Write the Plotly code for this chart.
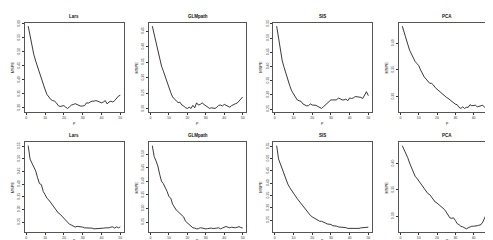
import plotly.graph_objects as go

p = list(range(1, 51))

titles = ["Lars", "GLMpath", "SIS", "PCA", "Lars", "GLMpath", "SIS", "PCA"]

lars_top = [0.592, 0.556, 0.520, 0.490, 0.467, 0.445, 0.425, 0.407, 0.381, 0.365,
            0.348, 0.338, 0.330, 0.326, 0.324, 0.318, 0.308, 0.305, 0.306, 0.308,
            0.302, 0.298, 0.304, 0.310, 0.312, 0.315, 0.312, 0.308, 0.306, 0.307,
            0.308, 0.318, 0.317, 0.321, 0.324, 0.324, 0.326, 0.324, 0.321, 0.318,
            0.321, 0.326, 0.314, 0.321, 0.324, 0.321, 0.326, 0.336, 0.342, 0.345]
glm_top = [0.466, 0.439, 0.407, 0.380, 0.359, 0.337, 0.321, 0.302, 0.284, 0.270,
           0.252, 0.238, 0.230, 0.225, 0.220, 0.221, 0.212, 0.209, 0.203, 0.201,
           0.205, 0.201, 0.211, 0.203, 0.219, 0.212, 0.214, 0.219, 0.214, 0.209,
           0.205, 0.201, 0.203, 0.203, 0.201, 0.205, 0.211, 0.212, 0.209, 0.214,
           0.211, 0.206, 0.205, 0.210, 0.214, 0.216, 0.218, 0.225, 0.230, 0.238]
sis_top = [0.542, 0.495, 0.449, 0.419, 0.396, 0.373, 0.349, 0.332, 0.314, 0.303,
           0.291, 0.282, 0.279, 0.277, 0.268, 0.264, 0.261, 0.262, 0.268, 0.264,
           0.264, 0.263, 0.259, 0.254, 0.252, 0.258, 0.264, 0.268, 0.273, 0.282,
           0.282, 0.283, 0.282, 0.289, 0.285, 0.282, 0.282, 0.285, 0.279, 0.289,
           0.287, 0.289, 0.294, 0.293, 0.291, 0.291, 0.287, 0.299, 0.311, 0.297]
pca_top = [0.432, 0.422, 0.411, 0.398, 0.387, 0.380, 0.372, 0.366, 0.362, 0.358,
           0.350, 0.342, 0.337, 0.333, 0.329, 0.325, 0.325, 0.322, 0.317, 0.314,
           0.311, 0.308, 0.305, 0.301, 0.299, 0.297, 0.294, 0.291, 0.288, 0.286,
           0.285, 0.280, 0.278, 0.281, 0.278, 0.280, 0.280, 0.285, 0.283, 0.283,
           0.284, 0.281, 0.282, 0.282, 0.284, 0.280, 0.283, 0.283, 0.284, 0.288]
lars_bot = [0.552, 0.499, 0.483, 0.469, 0.452, 0.425, 0.402, 0.398, 0.371, 0.358,
            0.344, 0.337, 0.327, 0.313, 0.304, 0.294, 0.286, 0.281, 0.273, 0.263,
            0.257, 0.250, 0.241, 0.238, 0.234, 0.230, 0.233, 0.233, 0.230, 0.230,
            0.227, 0.227, 0.227, 0.227, 0.226, 0.223, 0.223, 0.226, 0.224, 0.224,
            0.226, 0.227, 0.227, 0.227, 0.230, 0.231, 0.226, 0.231, 0.227, 0.231]
glm_bot = [0.531, 0.491, 0.475, 0.456, 0.425, 0.400, 0.391, 0.379, 0.363, 0.344,
           0.338, 0.316, 0.303, 0.294, 0.288, 0.281, 0.275, 0.269, 0.253, 0.246,
           0.240, 0.234, 0.229, 0.228, 0.225, 0.226, 0.229, 0.228, 0.225, 0.225,
           0.226, 0.228, 0.228, 0.226, 0.226, 0.228, 0.229, 0.225, 0.228, 0.230,
           0.234, 0.231, 0.229, 0.231, 0.230, 0.229, 0.231, 0.233, 0.230, 0.228]
sis_bot = [0.553, 0.499, 0.478, 0.458, 0.430, 0.414, 0.396, 0.382, 0.369, 0.355,
           0.348, 0.337, 0.327, 0.314, 0.304, 0.296, 0.286, 0.277, 0.269, 0.263,
           0.259, 0.255, 0.249, 0.245, 0.245, 0.243, 0.238, 0.234, 0.234, 0.232,
           0.227, 0.227, 0.225, 0.222, 0.222, 0.221, 0.221, 0.219, 0.216, 0.216,
           0.215, 0.214, 0.214, 0.215, 0.216, 0.218, 0.219, 0.222, 0.222, 0.221]
pca_bot = [0.434, 0.427, 0.420, 0.411, 0.401, 0.392, 0.383, 0.376, 0.372, 0.367,
           0.362, 0.357, 0.354, 0.348, 0.343, 0.341, 0.336, 0.331, 0.327, 0.325,
           0.322, 0.320, 0.316, 0.313, 0.308, 0.303, 0.297, 0.296, 0.297, 0.292,
           0.286, 0.284, 0.281, 0.280, 0.278, 0.276, 0.278, 0.280, 0.281, 0.281,
           0.281, 0.282, 0.283, 0.284, 0.289, 0.297, 0.303, 0.310, 0.319, 0.335]

series = [lars_top, glm_top, sis_top, pca_top, lars_bot, glm_bot, sis_bot, pca_bot]

x_ticks = [0, 10, 20, 30, 40, 50]
y_ticks = [
    [0.30, 0.35, 0.40, 0.45, 0.50, 0.55, 0.60],
    [0.20, 0.25, 0.30, 0.35, 0.40, 0.45],
    [0.25, 0.30, 0.35, 0.40, 0.45, 0.50, 0.55],
    [0.30, 0.35, 0.40],
    [0.25, 0.30, 0.35, 0.40, 0.45, 0.50, 0.55],
    [0.25, 0.30, 0.35, 0.40, 0.45, 0.50],
    [0.20, 0.25, 0.30, 0.35, 0.40, 0.45, 0.50, 0.55],
    [0.30, 0.35, 0.40],
]

W, H = 493, 240
col_px = [(16.5, 116.0), (140.7, 238.3), (265.0, 364.0), (390.7, 487.5)]
row_px = [(12.0, 102.0), (133.0, 224.0)]
p_label_bottom = [116.0, 235.0]

FONT = "Liberation Sans, Arial, sans-serif"
fig = go.Figure()
layout = dict(width=W, height=H, margin=dict(l=0, r=0, t=0, b=0),
              paper_bgcolor="white", plot_bgcolor="white", showlegend=False,
              font=dict(family=FONT, size=4, color="#222"))
annotations = []

for i, ys in enumerate(series):
    r, c = divmod(i, 4)
    x0, x1 = col_px[c]
    t0, t1 = row_px[r]
    k = "" if i == 0 else str(i + 1)
    fig.add_trace(go.Scatter(x=p, y=ys, mode="lines",
                             line=dict(color="#222", width=0.9),
                             xaxis="x" + k, yaxis="y" + k,
                             hoverinfo="skip"))
    ymin, ymax = min(ys), max(ys)
    pad = (ymax - ymin) * 0.04
    common = dict(showgrid=False, zeroline=False, showline=True, mirror=True,
                  linecolor="#555", linewidth=0.8, ticks="outside", ticklen=2,
                  tickwidth=0.6, tickcolor="#333",
                  tickfont=dict(size=3.5, family=FONT, color="#333"))
    layout["xaxis" + k] = dict(domain=[x0 / W, x1 / W], anchor="y" + k,
                               range=[1 - 49 * 0.04, 50 + 49 * 0.04],
                               tickvals=x_ticks, **common)
    layout["yaxis" + k] = dict(domain=[1 - t1 / H, 1 - t0 / H], anchor="x" + k,
                               range=[ymin - pad, ymax + pad],
                               tickvals=y_ticks[i],
                               ticktext=["%.2f" % v for v in y_ticks[i]],
                               tickangle=-90, **common)
    annotations.append(dict(text="<b>%s</b>" % titles[i], xref="paper", yref="paper",
                            x=(x0 + x1) / 2 / W, y=1 - (t0 - 6.5) / H,
                            xanchor="center", yanchor="middle",
                            showarrow=False, font=dict(size=4.5, family=FONT, color="#111")))
    annotations.append(dict(text="p", xref="paper", yref="paper",
                            x=(x0 + x1) / 2 / W, y=1 - p_label_bottom[r] / H,
                            xanchor="center", yanchor="bottom", borderpad=0,
                            showarrow=False, font=dict(size=4, family=FONT, color="#222")))
    annotations.append(dict(text="MSPE", xref="paper", yref="paper",
                            x=(x0 - 12.5) / W, y=1 - (t0 + t1) / 2 / H,
                            xanchor="center", yanchor="middle",
                            textangle=-90, showarrow=False,
                            font=dict(size=4, family=FONT, color="#222")))

layout["annotations"] = annotations
fig.update_layout(**layout)
fig.write_html("out.html")
